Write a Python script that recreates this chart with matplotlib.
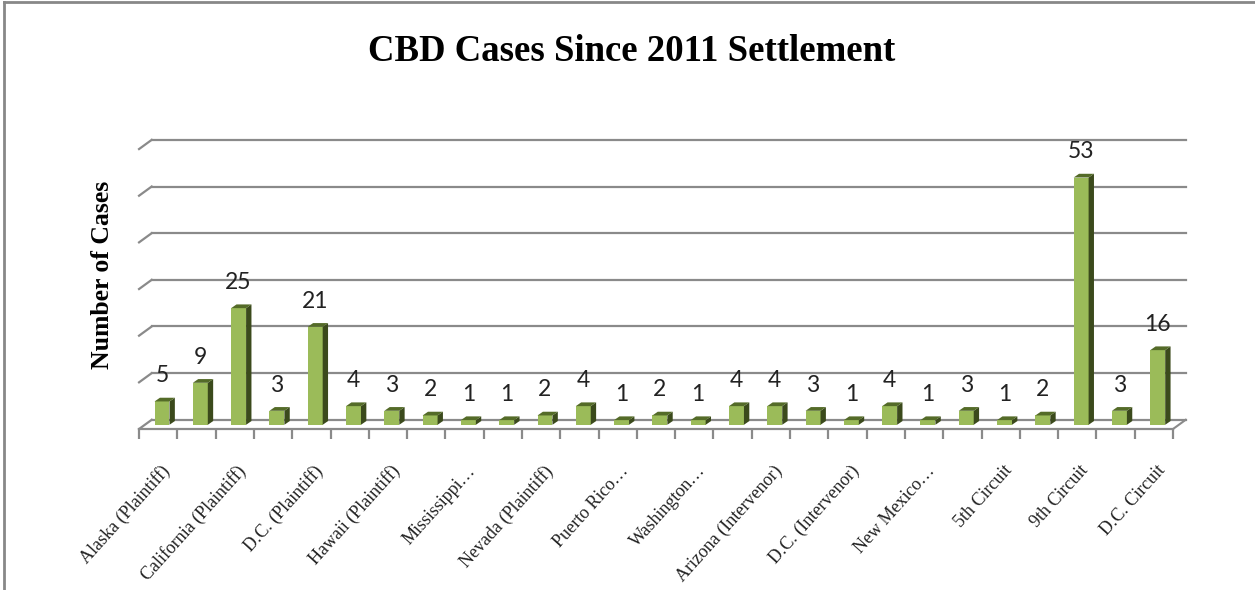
import matplotlib
matplotlib.use("Agg")
import matplotlib.pyplot as plt
from matplotlib.lines import Line2D
from matplotlib.transforms import ScaledTranslation
import numpy as np

# Data
categories = ['Alaska (Plaintiff)', '', 'California (Plaintiff)', '', 'D.C. (Plaintiff)', '',
              'Hawaii (Plaintiff)', '', 'Mississippi\u2026', '', 'Nevada (Plaintiff)', '',
              'Puerto Rico\u2026', '', 'Washington\u2026', '', 'Arizona (Intervenor)', '',
              'D.C. (Intervenor)', '', 'New Mexico\u2026', '', '5th Circuit', '',
              '9th Circuit', '', 'D.C. Circuit']
cases = [5, 9, 25, 3, 21, 4, 3, 2, 1, 1, 2, 4, 1, 2, 1, 4, 4, 3, 1, 4, 1, 3, 1, 2, 53, 3, 16]
grid_values = [0, 10, 20, 30, 40, 50, 60]

# styling
front_col = '#9bbb59'
side_col = '#3b4a1c'
top_col = '#546b28'
grid_col = '#8a8a8a'

fig = plt.figure(figsize=(12.55, 5.9), dpi=100)
ax = fig.add_axes([0.1108, 0.2729, 0.8239, 0.4974])

n = len(cases)
x = np.arange(n)
ax.set_xlim(-0.5, n - 0.5)
ax.set_ylim(-0.9, 62)

# pseudo-3D geometry (in data units)
wall_dx, wall_front, wall_back = 0.33, -0.9, 1.07
bar_w, bar_dx, bar_dy, bar_shift = 0.39, 0.14, 0.8, 0.1

# floor edge on the right
ax.plot([n - 0.5, n - 0.5 + wall_dx], [wall_front, wall_back],
        color=grid_col, lw=1.5, zorder=1, clip_on=False)

# back-wall gridlines with left-wall diagonal
for g in grid_values:
    ax.plot([-0.5 + wall_dx, n - 0.5 + wall_dx], [g + wall_back, g + wall_back],
            color=grid_col, lw=1.6, zorder=1, clip_on=False)
    ax.plot([-0.5, -0.5 + wall_dx], [g + wall_front, g + wall_back],
            color=grid_col, lw=1.6, zorder=1, clip_on=False)

# bars: front face + side + top
left = x - bar_w / 2 + bar_shift
ax.bar(left, cases, width=bar_w, bottom=0, align='edge', color=front_col,
       edgecolor='none', zorder=3)
for xl, v in zip(left, cases):
    xr = xl + bar_w
    ax.fill([xr, xr + bar_dx, xr + bar_dx, xr], [0, bar_dy, v + bar_dy, v],
            color=side_col, zorder=3, lw=0)
    ax.fill([xl, xl + bar_dx, xr + bar_dx, xr], [v, v + bar_dy, v + bar_dy, v],
            color=top_col, zorder=3, lw=0)
    ax.annotate(str(v), (xl + bar_w / 2, v), xytext=(0, 11), textcoords='offset points',
                ha='center', va='bottom', fontsize=16.5, family='Lato', color='#222222')

# axes cosmetics
for s in ['top', 'right', 'left']:
    ax.spines[s].set_visible(False)
ax.spines['bottom'].set_color(grid_col)
ax.spines['bottom'].set_linewidth(1.6)
ax.set_yticks([])
ax.set_xticks(np.arange(-0.5, n, 1.0), minor=True)
ax.tick_params(axis='x', which='minor', length=7, width=1.6, color=grid_col, direction='out')
ax.set_xticks(x)
ax.set_xticklabels(categories, rotation=48, ha='right', rotation_mode='anchor',
                   family='Liberation Serif', fontsize=13, color='#222222')
ax.tick_params(axis='x', which='major', length=0, pad=24)
for lab in ax.get_xticklabels():
    lab.set_transform(lab.get_transform() + ScaledTranslation(0.02, 0, fig.dpi_scale_trans))

ax.set_facecolor('none')

fig.text(0.503, 0.912, 'CBD Cases Since 2011 Settlement', ha='center', va='center',
         fontsize=26.5, fontweight='bold', family='Liberation Serif')
fig.text(0.082, 0.534, 'Number of Cases', ha='center', va='center', rotation=90,
         fontsize=18.5, fontweight='bold', family='Liberation Serif')

# chart border (only top and left are visible in the crop)
fig.add_artist(Line2D([0.0035, 1.0], [0.996, 0.996], color='#888888', lw=2, transform=fig.transFigure))
fig.add_artist(Line2D([0.0035, 0.0035], [0.0, 0.996], color='#888888', lw=2, transform=fig.transFigure))

fig.savefig('out.png', dpi=100)
